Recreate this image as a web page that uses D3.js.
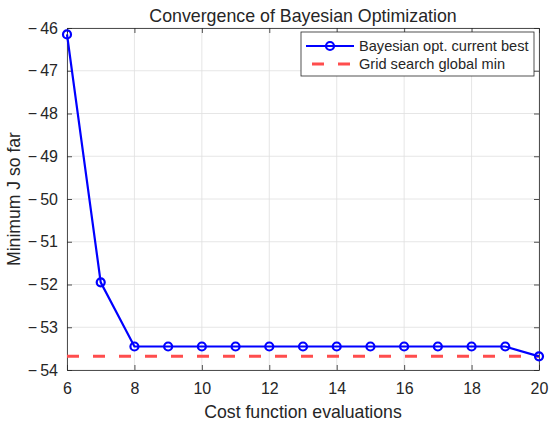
<!DOCTYPE html>
<html>
<head>
<meta charset="utf-8">
<script src="https://cdn.jsdelivr.net/npm/d3@7"></script>
<style>
  body { margin: 0; background: #fff; }
  text { font-family: "Liberation Sans", Arial, sans-serif; fill: #262626; }
</style>
</head>
<body>
<div id="chart"></div>
<script>
// Data
const evals = [6, 7, 8, 9, 10, 11, 12, 13, 14, 15, 16, 17, 18, 19, 20];
const currentBest = [-46.15, -51.95, -53.45, -53.45, -53.45, -53.45, -53.45, -53.45,
                     -53.45, -53.45, -53.45, -53.45, -53.45, -53.45, -53.68];
const gridMin = -53.68;
const xTicks = [6, 8, 10, 12, 14, 16, 18, 20];
const yTicks = [-54, -53, -52, -51, -50, -49, -48, -47, -46];
const legendLabels = ["Bayesian opt. current best", "Grid search global min"];

const width = 550, height = 426;
const margin = { top: 28, right: 11, bottom: 56, left: 67 };
const iw = width - margin.left - margin.right;
const ih = height - margin.top - margin.bottom;

const blue = "#0000ff";
const red = "#ff4d4d";
const axisColor = "#262626";

const svg = d3.select("#chart").append("svg")
    .attr("width", width)
    .attr("height", height);

const g = svg.append("g")
    .attr("transform", `translate(${margin.left},${margin.top})`);

const x = d3.scaleLinear().domain([6, 20]).range([0, iw]);
const y = d3.scaleLinear().domain([-54, -46]).range([ih, 0]);

// MATLAB style minus with a small gap
const fmt = d => d < 0 ? "\u2212\u2009" + Math.abs(d) : String(d);

// grid
g.append("g").selectAll("line").data(xTicks).join("line")
    .attr("x1", d => x(d)).attr("x2", d => x(d))
    .attr("y1", 0).attr("y2", ih)
    .attr("stroke", "#dfdfdf").attr("stroke-width", 0.8);
g.append("g").selectAll("line").data(yTicks).join("line")
    .attr("x1", 0).attr("x2", iw)
    .attr("y1", d => y(d)).attr("y2", d => y(d))
    .attr("stroke", "#dfdfdf").attr("stroke-width", 0.8);

// axes with inward ticks
const xAxis = g.append("g")
    .attr("transform", `translate(0,${ih})`)
    .call(d3.axisBottom(x).tickValues(xTicks).tickFormat(fmt).tickSizeInner(-5).tickSizeOuter(0).tickPadding(13));
const yAxis = g.append("g")
    .call(d3.axisLeft(y).tickValues(yTicks).tickFormat(fmt).tickSizeInner(-5).tickSizeOuter(0).tickPadding(9));
const xTop = g.append("g")
    .call(d3.axisTop(x).tickValues(xTicks).tickFormat("").tickSizeInner(-5).tickSizeOuter(0));
const yRight = g.append("g")
    .attr("transform", `translate(${iw},0)`)
    .call(d3.axisRight(y).tickValues(yTicks).tickFormat("").tickSizeInner(-5).tickSizeOuter(0));

[xAxis, yAxis, xTop, yRight].forEach(a => {
  a.select(".domain").attr("stroke", axisColor).attr("stroke-width", 0.8);
  a.selectAll(".tick line").attr("stroke", axisColor).attr("stroke-width", 0.8);
  a.selectAll(".tick text").attr("font-size", 16).attr("fill", axisColor)
    .style("font-family", '"Liberation Sans", Arial, sans-serif');
});

// grid search min (dashed)
g.append("line")
    .attr("x1", x(6)).attr("x2", x(20))
    .attr("y1", y(gridMin)).attr("y2", y(gridMin))
    .attr("stroke", red).attr("stroke-width", 3)
    .attr("stroke-dasharray", "12,14");

// current best line + markers
const pts = evals.map((e, i) => [e, currentBest[i]]);
g.append("path")
    .datum(pts)
    .attr("fill", "none")
    .attr("stroke", blue)
    .attr("stroke-width", 2.2)
    .attr("d", d3.line().x(d => x(d[0])).y(d => y(d[1])));

g.append("g").selectAll("circle").data(pts).join("circle")
    .attr("cx", d => x(d[0])).attr("cy", d => y(d[1]))
    .attr("r", 4)
    .attr("fill", "none")
    .attr("stroke", blue)
    .attr("stroke-width", 2.2);

// title and labels
svg.append("text")
    .attr("x", margin.left + iw / 2).attr("y", 22)
    .attr("text-anchor", "middle").attr("font-size", 17.8)
    .attr("fill", "#000")
    .text("Convergence of Bayesian Optimization");

svg.append("text")
    .attr("x", margin.left + iw / 2).attr("y", 418)
    .attr("text-anchor", "middle").attr("font-size", 17.7)
    .text("Cost function evaluations");

svg.append("text")
    .attr("transform", `translate(20,${margin.top + ih / 2}) rotate(-90)`)
    .attr("text-anchor", "middle").attr("font-size", 17.6)
    .text("Minimum J so far");

// legend
const lg = svg.append("g").attr("transform", "translate(301,32)");
lg.append("rect")
    .attr("width", 233).attr("height", 44)
    .attr("fill", "#fff").attr("stroke", axisColor).attr("stroke-width", 0.8);

lg.append("line")
    .attr("x1", 5).attr("x2", 53).attr("y1", 14).attr("y2", 14)
    .attr("stroke", blue).attr("stroke-width", 2.2);
lg.append("circle")
    .attr("cx", 29).attr("cy", 14).attr("r", 4)
    .attr("fill", "none").attr("stroke", blue).attr("stroke-width", 2.2);
lg.append("line")
    .attr("x1", 5).attr("x2", 53).attr("y1", 32).attr("y2", 32)
    .attr("stroke", red).attr("stroke-width", 3)
    .attr("stroke-dasharray", "12,14").attr("stroke-dashoffset", -6);

lg.selectAll("text.leg").data(legendLabels).join("text")
    .attr("class", "leg")
    .attr("x", 58).attr("y", (d, i) => 19 + i * 18)
    .attr("font-size", 14.6).attr("fill", "#000")
    .text(d => d);
</script>
</body>
</html>
